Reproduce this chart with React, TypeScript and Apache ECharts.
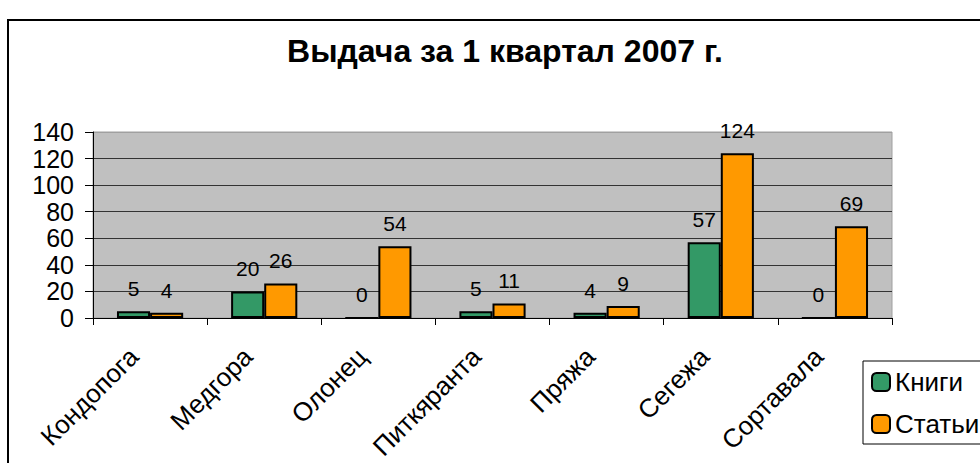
import React, { useEffect, useRef } from "react";
import * as echarts from "echarts";

const categories = ["Кондопога", "Медгора", "Олонец", "Питкяранта", "Пряжа", "Сегежа", "Сортавала"];
const booksValues = [5, 20, 0, 5, 4, 57, 0];
const articlesValues = [4, 26, 54, 11, 9, 124, 69];
const seriesNames = ["Книги", "Статьи"];
const titleText = "Выдача за 1 квартал 2007 г.";

const FONT = "'Liberation Sans', Arial, sans-serif";

export default function App() {
  const ref = useRef<HTMLDivElement>(null);
  useEffect(() => {
    if (!ref.current) return;
    const chart = echarts.init(ref.current, null, { renderer: "svg" });
    const labelStyle = {
      show: true,
      position: "top",
      distance: 12,
      fontSize: 21,
      fontFamily: FONT,
      color: "#000",
    };
    chart.setOption({
      animation: false,
      backgroundColor: "#fff",
      title: {
        text: titleText,
        left: 500,
        textAlign: "center",
        top: 30,
        textStyle: { fontSize: 32, fontWeight: "bold", fontFamily: FONT, color: "#000" },
      },
      graphic: [
        {
          type: "rect",
          shape: { x: 8, y: 20, width: 1100, height: 600 },
          style: { fill: "none", stroke: "#000", lineWidth: 2 },
          silent: true,
          z: -1,
        },
      ],
      grid: {
        left: 93,
        right: 88,
        top: 132,
        bottom: 145,
        outerBoundsMode: "none",
        containLabel: false,
        show: true,
        backgroundColor: "#C0C0C0",
        borderColor: "#A0A0A0",
        borderWidth: 1,
      },
      legend: {
        orient: "vertical",
        left: 863,
        top: 361,
        padding: [8, 30, 7, 8],
        itemWidth: 18,
        itemHeight: 18,
        itemGap: 16,
        backgroundColor: "#fff",
        borderColor: "#000",
        borderWidth: 1,
        textStyle: { fontSize: 26, fontFamily: FONT, color: "#000" },
        data: seriesNames,
      },
      xAxis: {
        type: "category",
        data: categories,
        axisLine: { lineStyle: { color: "#000", width: 1 } },
        axisTick: { show: true, length: 7, lineStyle: { color: "#000" } },
        axisLabel: {
          rotate: 45,
          interval: 0,
          margin: 18,
          padding: [0, 23, 0, 0],
          fontSize: 26,
          fontFamily: FONT,
          color: "#000",
        },
      },
      yAxis: {
        type: "value",
        min: 0,
        max: 140,
        interval: 20,
        axisLine: { show: true, lineStyle: { color: "#000", width: 1 } },
        axisTick: { show: true, length: 8, lineStyle: { color: "#000" } },
        axisLabel: { margin: 19, fontSize: 25, fontFamily: FONT, color: "#000" },
        splitLine: {
          show: true,
          lineStyle: {
            color: ["#333", "#333", "#333", "#333", "#333", "#333", "#333", "#A0A0A0"],
            width: 1,
          },
        },
      },
      series: [
        {
          name: seriesNames[0],
          type: "bar",
          data: booksValues,
          barGap: "0%",
          barCategoryGap: "42%",
          itemStyle: { color: "#339966", borderColor: "#000", borderWidth: 2 },
          label: labelStyle,
        },
        {
          name: seriesNames[1],
          type: "bar",
          data: articlesValues,
          barGap: "0%",
          barCategoryGap: "42%",
          itemStyle: { color: "#FF9900", borderColor: "#000", borderWidth: 2 },
          label: labelStyle,
        },
      ],
    });
    return () => chart.dispose();
  }, []);
  return (
    <div
      ref={ref}
      style={{ position: "absolute", left: 0, top: 0, width: 980, height: 463 }}
    />
  );
}
